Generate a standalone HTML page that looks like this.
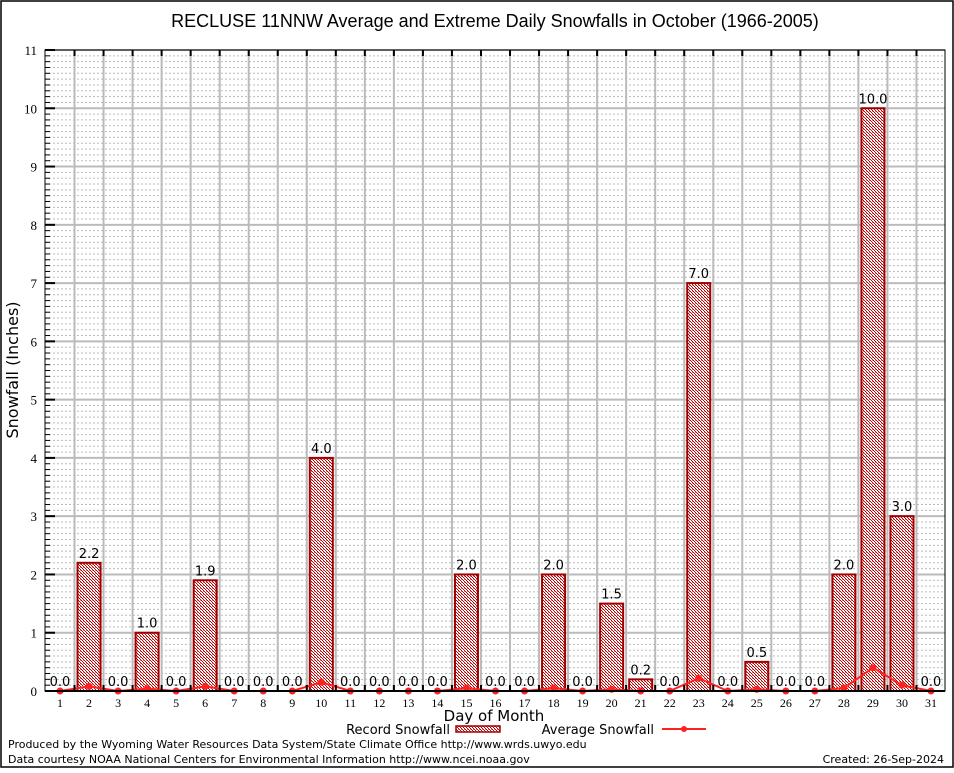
<!DOCTYPE html>
<html><head><meta charset="utf-8"><style>
body{margin:0;background:#fff}
</style></head><body>
<svg id="c" width="954" height="768" viewBox="0 0 954 768" xmlns="http://www.w3.org/2000/svg" font-family="DejaVu Sans, Liberation Sans, sans-serif">
<defs>
<pattern id="hatch" width="3" height="3" patternUnits="userSpaceOnUse">
<rect width="3" height="3" fill="#ffffff"/>
<rect x="0" y="0" width="1" height="1" fill="#c00000"/><rect x="1" y="1" width="1" height="1" fill="#c00000"/><rect x="2" y="2" width="1" height="1" fill="#c00000"/><rect x="2" y="0" width="1" height="1" fill="#e08080"/>
</pattern>
</defs>
<rect x="1" y="1" width="952" height="766" fill="#fff" stroke="#000" stroke-width="1.5"/>
<text x="495" y="27" text-anchor="middle" font-size="18" font-family="Liberation Sans, sans-serif">RECLUSE 11NNW Average and Extreme Daily Snowfalls in October (1966-2005)</text>
<g id="grid"></g>
<g id="bars"></g>
<g id="line"></g>
<g id="axes"></g>
<text x="18" y="370" transform="rotate(-90 18 370)" text-anchor="middle" font-size="16">Snowfall (Inches)</text>
<text x="494" y="721" text-anchor="middle" font-size="15">Day of Month</text>
<g>
<text x="450" y="734" text-anchor="end" font-size="13">Record Snowfall</text>
<rect x="456" y="726" width="44" height="6" fill="url(#hatch)" stroke="#a00000" stroke-width="1.5"/>
<text x="654" y="734" text-anchor="end" font-size="13">Average Snowfall</text>
<line x1="662" y1="729" x2="706" y2="729" stroke="#ff2020" stroke-width="2"/>
<circle cx="684" cy="729" r="3" fill="#ff2020"/>
</g>
<text x="8" y="748" font-size="11">Produced by the Wyoming Water Resources Data System/State Climate Office http://www.wrds.uwyo.edu</text>
<text x="8" y="763" font-size="11">Data courtesy NOAA National Centers for Environmental Information http://www.ncei.noaa.gov</text>
<text x="944" y="763" text-anchor="end" font-size="11">Created: 26-Sep-2024</text>
</svg>
<script>
const days=[1,2,3,4,5,6,7,8,9,10,11,12,13,14,15,16,17,18,19,20,21,22,23,24,25,26,27,28,29,30,31];
const recordSnow=[0,2.2,0,1.0,0,1.9,0,0,0,4.0,0,0,0,0,2.0,0,0,2.0,0,1.5,0.2,0,7.0,0,0.5,0,0,2.0,10.0,3.0,0];
const avgSnow=[0,0.08,0,0.04,0,0.08,0,0,0,0.15,0,0,0,0,0.05,0,0,0.05,0,0.03,0,0,0.22,0,0.03,0,0,0.05,0.4,0.1,0];
const yTicks=[0,1,2,3,4,5,6,7,8,9,10,11];
const NS='http://www.w3.org/2000/svg';
const L=45,R=945,T=50,B=691;
const x=d=>60+(d-1)*(931-60)/30;
const y=v=>B-v*(B-T)/11;
function mk(tag,attrs,parent){const e=document.createElementNS(NS,tag);for(const k in attrs)e.setAttribute(k,attrs[k]);parent.appendChild(e);return e;}
const grid=document.getElementById('grid'),bars=document.getElementById('bars'),line=document.getElementById('line'),axes=document.getElementById('axes');
for(let i=1;i<110;i++){if(i%10===0)continue;const g=mk('line',{x1:L,x2:R,y1:y(i/10),y2:y(i/10),stroke:'#bbb','stroke-width':1,'stroke-dasharray':'2,2'},grid);

}
yTicks.forEach(t=>{const g=mk('line',{x1:L,x2:R,y1:y(t),y2:y(t),stroke:'#bbb','stroke-width':2},grid);


const tl=mk('text',{x:L-8,y:y(t)+5,'text-anchor':'end','font-size':13,'font-family':'Liberation Serif, serif'},axes);tl.textContent=t;


mk('line',{x1:L,x2:L+10,y1:y(t),y2:y(t),stroke:'#000','stroke-width':2},axes);
for(let m=1;m<10&&t<11;m++){mk('line',{x1:L,x2:L+5,y1:y(t+m/10),y2:y(t+m/10),stroke:'#000','stroke-width':1},axes);}
});
for(let d=1;d<31;d++){const xv=(x(d)+x(d+1))/2;const g=mk('line',{x1:xv,x2:xv,y1:T,y2:B,stroke:'#bbb','stroke-width':2},grid);


mk('line',{x1:xv,x2:xv,y1:T,y2:T+6,stroke:'#000','stroke-width':2},axes);
mk('line',{x1:xv,x2:xv,y1:B,y2:B-6,stroke:'#000','stroke-width':2},axes);}
days.forEach((d,i)=>{const v=recordSnow[i];
if(v>0){const b=mk('rect',{x:x(d)-11.5,y:y(v),width:23,height:B-y(v),fill:'url(#hatch)',stroke:'#a00000','stroke-width':2},bars);

}
const lb=mk('text',{x:x(d),y:y(v)-5,'text-anchor':'middle','font-size':13},bars);lb.textContent=v.toFixed(1);


const tl=mk('text',{x:x(d),y:B+16,'text-anchor':'middle','font-size':12,'font-family':'Liberation Serif, serif'},axes);tl.textContent=d;

});
const pl=mk('polyline',{points:days.map((d,i)=>x(d)+','+y(avgSnow[i])).join(' '),fill:'none',stroke:'#ff2020','stroke-width':2},line);


days.forEach((d,i)=>{const c=mk('circle',{cx:x(d),cy:y(avgSnow[i]),r:3.5,fill:'#ff2020'},line);

});
const fr=mk('rect',{x:L,y:T,width:R-L,height:B-T,fill:'none',stroke:'#000','stroke-width':1},axes);


mk('line',{x1:L,x2:R,y1:B,y2:B,stroke:'#000','stroke-width':2},axes);
</script>
</body></html>
